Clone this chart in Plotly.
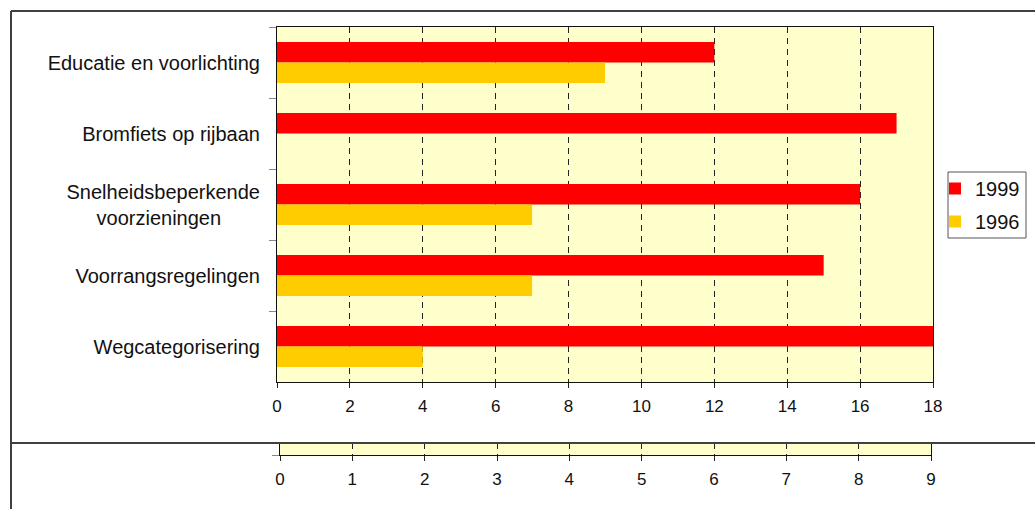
import plotly.graph_objects as go

# Maatregelen, van boven naar beneden
categories = [
    "Educatie en voorlichting",
    "Bromfiets op rijbaan",
    "Snelheidsbeperkende<br>voorzieningen" + "\u00a0" * 7,
    "Voorrangsregelingen",
    "Wegcategorisering",
]
values_1999 = [12, 17, 16, 15, 18]
values_1996 = [9, None, 7, 7, 4]

main_ticks = [0, 2, 4, 6, 8, 10, 12, 14, 16, 18]
lower_ticks = [0, 1, 2, 3, 4, 5, 6, 7, 8, 9]

W, H = 1035, 509
ML, MR, MT, MB = 277, 102, 27, 54
PW, PH = W - ML - MR, H - MT - MB


def px_x(p):
    return (p - ML) / PW


def px_y(q):
    return (H - MB - q) / PH


FONT = "Liberation Sans, Arial, sans-serif"
BG = "#FFFFCC"

fig = go.Figure()
fig.add_trace(go.Bar(
    name="1999", y=categories, x=values_1999, orientation="h",
    marker=dict(color="#FF0000", line=dict(width=0)), legendgroup="a",
))
fig.add_trace(go.Bar(
    name="1996", y=categories, x=values_1996, orientation="h",
    marker=dict(color="#FFCC00", line=dict(width=0)), legendgroup="b",
))
# empty trace that keeps the lower axis strip alive
fig.add_trace(go.Scatter(x=[None], y=[None], xaxis="x2", yaxis="y2",
                         showlegend=False, hoverinfo="skip"))

grid = dict(showgrid=True, gridcolor="#222222", gridwidth=1, griddash="6px,5px")

fig.update_layout(
    width=W, height=H,
    margin=dict(l=ML, r=MR, t=MT, b=MB, pad=0, autoexpand=False),
    paper_bgcolor="white", plot_bgcolor=BG,
    font=dict(family=FONT, color="#111111"),
    barmode="group", bargap=0.42, bargroupgap=0,
    showlegend=True,
    legend=dict(
        x=px_x(935), y=px_y(169), xanchor="left", yanchor="top",
        borderwidth=0, bgcolor="rgba(0,0,0,0)",
        font=dict(family=FONT, size=20, color="#111111"),
        tracegroupgap=4, traceorder="grouped",
    ),
    xaxis=dict(
        domain=[0, 1], anchor="y", range=[0, 18], tickvals=main_ticks,
        ticks="outside", ticklen=5, tickcolor="#222222",
        showline=True, linecolor="#111111", linewidth=1, mirror=True,
        tickfont=dict(size=17), zeroline=False, ticklabelstandoff=4, **grid,
    ),
    yaxis=dict(
        domain=[px_y(382), 1], anchor="x", type="category",
        categoryorder="array", categoryarray=categories,
        autorange="reversed", tickson="boundaries",
        ticks="outside", ticklen=7, tickcolor="#888888",
        showline=True, linecolor="#111111", linewidth=1, mirror=True,
        tickfont=dict(size=20), showgrid=False, ticklabelstandoff=12,
    ),
    xaxis2=dict(
        domain=[px_x(280), px_x(931)], anchor="y2", range=[0, 9], tickvals=lower_ticks,
        ticks="outside", ticklen=5, tickcolor="#222222",
        showline=True, linecolor="#111111", linewidth=1, mirror=True,
        tickfont=dict(size=17), zeroline=False, ticklabelstandoff=4, **grid,
    ),
    yaxis2=dict(
        domain=[0, px_y(443)], anchor="x2", range=[0, 1], tickvals=[0],
        showticklabels=False, ticks="outside", ticklen=7, tickcolor="#888888",
        showline=True, linecolor="#111111", linewidth=1, mirror=True,
        showgrid=False, zeroline=False,
    ),
)

# legend frame
lx0, lx1, ly0, ly1 = px_x(948), px_x(1026), px_y(172), px_y(238)
fig.add_shape(type="path", xref="paper", yref="paper", layer="above",
              path=f"M{lx0},{ly0} L{lx1},{ly0} L{lx1},{ly1} L{lx0},{ly1} Z",
              line=dict(color="#555555", width=1), fillcolor="rgba(255,255,255,0)")

# outer frame lines
frame = dict(color="#404040", width=2)
fig.add_shape(type="line", xref="paper", yref="paper",
              x0=px_x(11), x1=px_x(W + 5), y0=px_y(11), y1=px_y(11), line=frame)
fig.add_shape(type="line", xref="paper", yref="paper",
              x0=px_x(11), x1=px_x(11), y0=px_y(11), y1=px_y(H + 5), line=frame)
fig.add_shape(type="line", xref="paper", yref="paper",
              x0=px_x(11), x1=px_x(W + 5), y0=px_y(443), y1=px_y(443), line=frame)

fig.write_html("out.html")
